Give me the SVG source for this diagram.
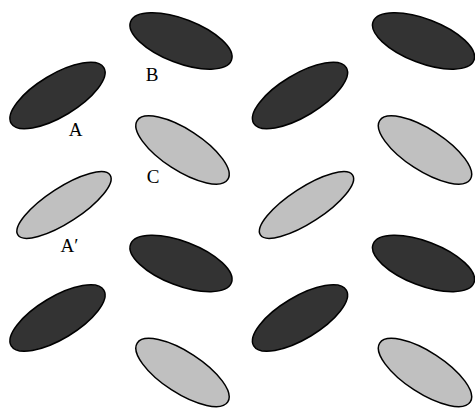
<svg xmlns="http://www.w3.org/2000/svg" xmlns:xlink="http://www.w3.org/1999/xlink" width="475" height="408" viewBox="0 0 475 408">
<style>
.dark{fill:#333333;stroke:#000;stroke-width:1.5}
.light{fill:#c0c0c0;stroke:#000;stroke-width:1.5}
.lbl{font-family:"Liberation Serif","Times New Roman",serif;font-size:19px;fill:#000}
</style>
<defs>
<ellipse id="eA" class="dark" cx="0" cy="0" rx="54" ry="21" transform="rotate(-31)"/>
<ellipse id="eB" class="dark" cx="0" cy="0" rx="54" ry="22" transform="rotate(21)"/>
<ellipse id="eC" class="light" cx="0" cy="0" rx="54" ry="20.5" transform="rotate(33)"/>
<ellipse id="eA2" class="light" cx="0" cy="0" rx="55" ry="17.5" transform="rotate(-33)"/>
</defs>
<rect width="475" height="408" fill="#fff"/>
<g id="B1"><use xlink:href="#eB" transform="translate(181,41)"/></g>
<g id="B2"><use xlink:href="#eB" transform="translate(423.5,41)"/></g>
<g id="A1"><use xlink:href="#eA" transform="translate(57.5,95.5)"/></g>
<g id="A2"><use xlink:href="#eA" transform="translate(300,95.5)"/></g>
<g id="C1"><use xlink:href="#eC" transform="translate(182.5,150)"/></g>
<g id="C2"><use xlink:href="#eC" transform="translate(425,150)"/></g>
<g id="Ap1"><use xlink:href="#eA2" transform="translate(64,205)"/></g>
<g id="Ap2"><use xlink:href="#eA2" transform="translate(306.5,205)"/></g>
<g id="B3"><use xlink:href="#eB" transform="translate(181,263.5)"/></g>
<g id="B4"><use xlink:href="#eB" transform="translate(423.5,263.5)"/></g>
<g id="A3"><use xlink:href="#eA" transform="translate(57.5,318)"/></g>
<g id="A4"><use xlink:href="#eA" transform="translate(300,318)"/></g>
<g id="C3"><use xlink:href="#eC" transform="translate(182.5,372.5)"/></g>
<g id="C4"><use xlink:href="#eC" transform="translate(425,372.5)"/></g>
<g id="labels">
<text class="lbl" x="152" y="81" text-anchor="middle">B</text>
<text class="lbl" x="75.5" y="136" text-anchor="middle">A</text>
<text class="lbl" x="153" y="183" text-anchor="middle">C</text>
<text class="lbl" x="60.5" y="252">A′</text>
</g>
<g id="connectors"/>
</svg>
